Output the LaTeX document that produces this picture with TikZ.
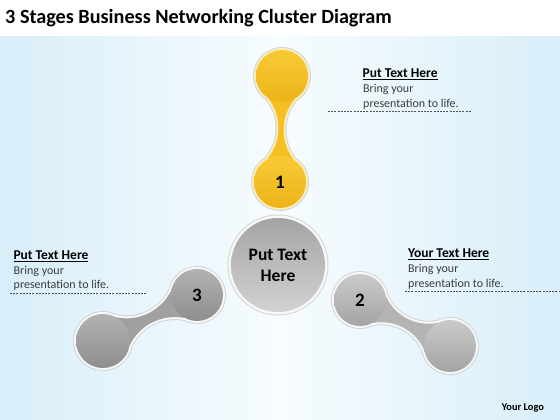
\documentclass[tikz,border=0pt]{standalone}
\usepackage{fontspec}
\setmainfont{Carlito}
\usetikzlibrary{calc}
\pgfdeclarelayer{bg}
\pgfdeclarelayer{rims}
\pgfsetlayers{bg,rims,main}
\definecolor{sky}{HTML}{D8EEF9}
\definecolor{skymid}{HTML}{F7FCFE}
\definecolor{ytop}{HTML}{F8CA36}
\definecolor{ybot}{HTML}{EDB318}
\definecolor{yneck}{HTML}{F3BF22}
\definecolor{yrim}{HTML}{FBEDB8}
\definecolor{gtop}{HTML}{B2B2B2}
\definecolor{gbot}{HTML}{8E8E8E}
\definecolor{gneck}{HTML}{A0A0A0}
\definecolor{gtwotop}{HTML}{CACACA}
\definecolor{gtwobot}{HTML}{A4A4A4}
\definecolor{gtwoneck}{HTML}{B4B4B4}
\definecolor{hubtop}{HTML}{A4A4A4}
\definecolor{hubbot}{HTML}{D2D2D2}
\definecolor{grim}{HTML}{F8F8F8}
\definecolor{edge}{HTML}{D0D6DA}
\definecolor{bodytext}{HTML}{3C3C3C}
\definecolor{rulegray}{HTML}{505050}

\begin{document}
\begin{tikzpicture}[x=1pt,y=1pt,
  ball/.style={circle,inner sep=0pt,minimum size=52pt,font=\fontsize{19}{19}\selectfont\bfseries},
  yball/.style={ball,top color=ytop,bottom color=ybot},
  gball/.style={ball,top color=gtop,bottom color=gbot},
  gtwoball/.style={ball,top color=gtwotop,bottom color=gtwobot},
  hub/.style={ball,minimum size=94pt,top color=hubtop,bottom color=hubbot,align=center,font=\fontsize{17.5}{21}\selectfont\bfseries},
  blurbhead/.style={anchor=base west,inner sep=0pt,font=\fontsize{13.5}{15}\selectfont\bfseries},
  blurb/.style={anchor=base west,inner sep=0pt,text=bodytext,font=\fontsize{12}{14}\selectfont},
  dashrule/.style={draw=rulegray,line width=0.6pt,dash pattern=on 2pt off 1.2pt}]
\useasboundingbox (0,0) rectangle (560,420);
\begin{pgfonlayer}{bg}
\fill[left color=sky,right color=sky,middle color=skymid] (0,0) rectangle (560,384);
\fill[white] (0,384) rectangle (560,420);
\end{pgfonlayer}

\node[anchor=base west,inner sep=0pt,font=\fontsize{20.2}{22}\selectfont\bfseries] (title) at (5,396) {3 Stages Business Networking Cluster Diagram};

% balls
\node[yball] (y1) at (282,344) {};
\node[yball] (y2) at (280,238) {1};
\node[hub] (hub) at (278,155) {Put Text\\Here};
\node[gball] (g3) at (197,125) {3};
\node[gball,minimum size=54pt] (g3e) at (103,79) {};
\node[gtwoball] (g2) at (360,120) {2};
\node[gtwoball] (g2e) at (450,74) {};

% rims and necks
\begin{pgfonlayer}{rims}
\fill[edge] (hub) circle (50.5);
\fill[grim] (hub) circle (49.5);
\foreach \a/\b/\t/\ra/\rb/\w/\c/\nk/\rc in {y1/y2/-91/26/26/30/-1/yneck/yrim, g3/g3e/-154/26/27/35/1.5/gneck/grim, g2/g2e/-27/26/26/35/1.5/gtwoneck/grim}{
  \pgfmathtruncatemacro\al{\t+\w}
  \pgfmathtruncatemacro\ar{\t-\w}
  \pgfmathtruncatemacro\bl{\t+180-\w}
  \pgfmathtruncatemacro\br{\t+180+\w}
  \fill[edge] (\a) circle ({\ra+3}) (\b) circle ({\rb+3});
  \draw[edge,line width=6pt,line join=round] (\a.\al) .. controls ($(\a)!0.38!(\b)!\c pt!90:(\b)$) and ($(\a)!0.62!(\b)!\c pt!90:(\b)$) .. (\b.\bl) -- (\b.\br) .. controls ($(\a)!0.62!(\b)!\c pt!-90:(\b)$) and ($(\a)!0.38!(\b)!\c pt!-90:(\b)$) .. (\a.\ar) -- cycle;
  \fill[\rc] (\a) circle ({\ra+2}) (\b) circle ({\rb+2});
  \path[fill=\nk,preaction={draw=\rc,line width=4pt,line join=round}] (\a.\al) .. controls ($(\a)!0.38!(\b)!\c pt!90:(\b)$) and ($(\a)!0.62!(\b)!\c pt!90:(\b)$) .. (\b.\bl) -- (\b.\br) .. controls ($(\a)!0.62!(\b)!\c pt!-90:(\b)$) and ($(\a)!0.38!(\b)!\c pt!-90:(\b)$) .. (\a.\ar) -- cycle;
}
\end{pgfonlayer}

% text blocks
\node[blurbhead] (trh) at (362.5,342.7) {\underline{Put Text Here}};
\node[blurb] (tr1) at (363,327.7) {Bring your};
\node[blurb] (tr2) at (363,312.7) {presentation to life.};
\coordinate (trs) at (328,308.3);
\coordinate (tre) at (472,308.3);
\draw[dashrule] (trs) -- (tre);

\node[blurbhead] (lh) at (13.3,160.7) {\underline{Put Text Here}};
\node[blurb] (l1) at (13.5,145.7) {Bring your};
\node[blurb] (l2) at (13.5,131) {presentation to life.};
\coordinate (ls) at (10,126.7);
\coordinate (le) at (147,126.7);
\draw[dashrule] (ls) -- (le);

\node[blurbhead] (rh) at (408,162.7) {\underline{Your Text Here}};
\node[blurb] (r1) at (408,147.7) {Bring your};
\node[blurb] (r2) at (408,132.7) {presentation to life.};
\coordinate (rs) at (405,128.3);
\coordinate (re) at (560,128.3);
\draw[dashrule] (rs) -- (re);

\node[anchor=base west,inner sep=0pt,font=\fontsize{10.4}{12}\selectfont\bfseries] (logo) at (501.7,9) {Your Logo};
\end{tikzpicture}
\end{document}
